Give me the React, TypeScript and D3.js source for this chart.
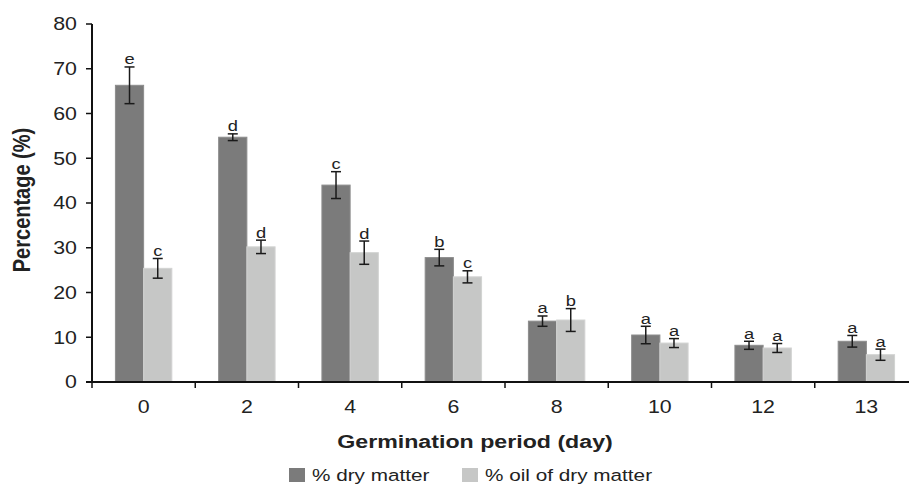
import React from "react";
import * as d3 from "d3";

const categories = ["0", "2", "4", "6", "8", "10", "12", "13"];
const dryMatter = [66.3, 54.7, 44.0, 27.8, 13.6, 10.5, 8.2, 9.1];
const dryErr = [4.1, 0.75, 3.0, 1.85, 1.15, 1.95, 0.9, 1.3];
const dryLetters = ["e", "d", "c", "b", "a", "a", "a", "a"];
const oilMatter = [25.4, 30.2, 28.9, 23.5, 13.85, 8.7, 7.6, 6.1];
const oilErr = [2.2, 1.5, 2.6, 1.35, 2.55, 1.0, 1.0, 1.25];
const oilLetters = ["c", "d", "d", "c", "b", "a", "a", "a"];
const yTicks = [0, 10, 20, 30, 40, 50, 60, 70, 80];
const seriesNames = ["% dry matter", "% oil of dry matter"];
const seriesColors = ["#7b7b7b", "#c6c7c6"];

const SX = 1.22;

function SText(props: { x: number; y: number; anchor?: string; size: number; bold?: boolean; dy?: string; children: React.ReactNode }) {
  return (
    <text
      transform={`translate(${props.x},${props.y}) scale(${SX},1)`}
      dy={props.dy}
      textAnchor={props.anchor || "start"}
      fontSize={props.size}
      fontWeight={props.bold ? "bold" : "normal"}
      fill="#222"
    >
      {props.children}
    </text>
  );
}

export default function App() {
  const W = 909, H = 490;
  const left = 92, right = 918, top = 24, bottom = 382;
  const x = d3.scaleBand<string>().domain(categories).range([left, right]).paddingInner(0).paddingOuter(0);
  const y = d3.scaleLinear().domain([0, 80]).range([bottom, top]);
  const inner = d3.scaleBand<number>().domain([0, 1]).range([0, x.bandwidth()]).paddingInner(0).paddingOuter(0.83);
  const font = "'Liberation Sans', Arial, Helvetica, sans-serif";
  const series = [
    { vals: dryMatter, errs: dryErr, letters: dryLetters },
    { vals: oilMatter, errs: oilErr, letters: oilLetters },
  ];
  const tickEdges = categories.map((c) => x(c)!).concat([right]);
  return (
    <svg width={W} height={H} style={{ position: "absolute", left: 0, top: 0, background: "#fff" }} fontFamily={font}>
      {series.map((s, si) =>
        s.vals.map((v, i) => {
          const bx = x(categories[i])! + inner(si)!;
          const bw = inner.bandwidth();
          const cx = bx + bw / 2;
          const yt = y(v + s.errs[i]);
          const yb = y(v - s.errs[i]);
          return (
            <g key={`${si}-${i}`}>
              <rect x={bx} y={y(v)} width={bw} height={bottom - y(v)} fill={seriesColors[si]} stroke={si === 0 ? "#8c8c8c" : "#d2d3d2"} strokeWidth={1} />
              <line x1={cx} x2={cx} y1={yt} y2={yb} stroke="#1a1a1a" strokeWidth={1.5} />
              <line x1={cx - 5} x2={cx + 5} y1={yt} y2={yt} stroke="#1a1a1a" strokeWidth={1.5} />
              <line x1={cx - 5} x2={cx + 5} y1={yb} y2={yb} stroke="#1a1a1a" strokeWidth={1.5} />
              <SText x={cx} y={yt - 2.5} anchor="middle" size={15}>{s.letters[i]}</SText>
            </g>
          );
        })
      )}
      {/* y axis */}
      <line x1={left} x2={left} y1={top} y2={bottom} stroke="#111" strokeWidth={2} />
      {yTicks.map((t) => (
        <g key={t}>
          <line x1={left - 6} x2={left} y1={y(t)} y2={y(t)} stroke="#111" strokeWidth={1.5} />
          <SText x={left - 15} y={y(t)} dy="0.36em" anchor="end" size={17.5}>{t}</SText>
        </g>
      ))}
      {/* x axis */}
      <line x1={left - 6} x2={right} y1={bottom} y2={bottom} stroke="#111" strokeWidth={2} />
      {tickEdges.map((e, i) => (
        <line key={i} x1={e} x2={e} y1={bottom} y2={bottom + 6} stroke="#111" strokeWidth={1.5} />
      ))}
      {categories.map((c) => (
        <SText key={c} x={x(c)! + x.bandwidth() / 2} y={413} anchor="middle" size={17.5}>{c}</SText>
      ))}
      <SText x={475} y={448} anchor="middle" size={19} bold>Germination period (day)</SText>
      <text transform={`translate(30,200) scale(${SX},1) rotate(-90)`} textAnchor="middle" fontSize={20} fontWeight="bold" fill="#222">Percentage (%)</text>
      {/* legend */}
      {seriesNames.map((n, i) => {
        const lx = i === 0 ? 289 : 462;
        return (
          <g key={n}>
            <rect x={lx} y={468} width={16} height={14} fill={seriesColors[i]} />
            <SText x={lx + 23} y={481} size={17}>{n}</SText>
          </g>
        );
      })}
    </svg>
  );
}
